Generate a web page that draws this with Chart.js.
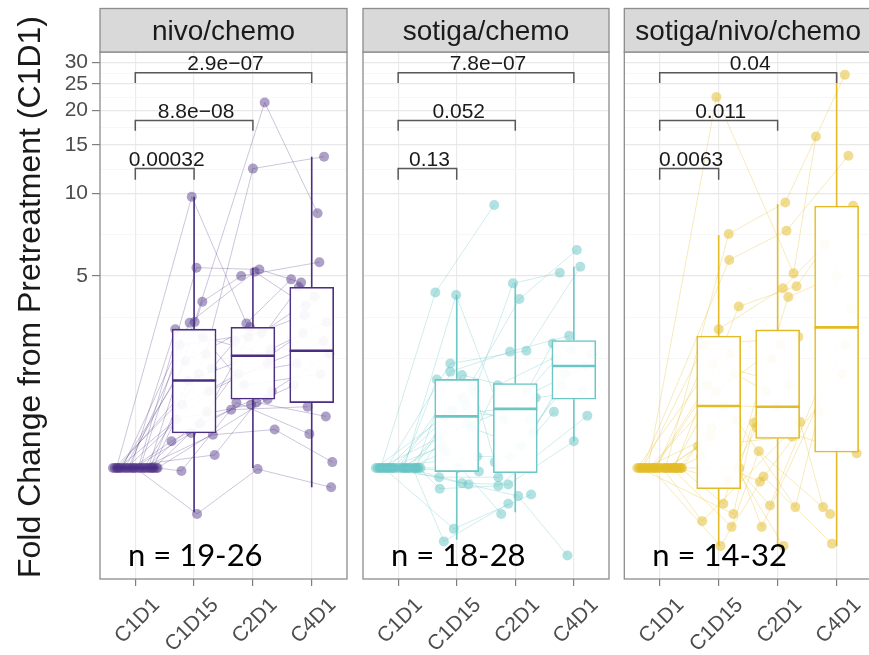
<!DOCTYPE html>
<html lang="en">
<head>
<meta charset="UTF-8">
<title>Fold change from pretreatment</title>
<script src="https://cdn.jsdelivr.net/npm/chart.js@4.4.0/dist/chart.umd.min.js"></script>
<style>
  html, body { margin: 0; padding: 0; background: #fff; overflow: hidden; width: 869px; height: 655px; }
  canvas { position: absolute; top: 0; }
</style>
</head>
<body>
<canvas id="c1" width="352" height="655" style="left:0px"></canvas>
<canvas id="c2" width="256" height="655" style="left:358px"></canvas>
<canvas id="c3" width="260" height="655" style="left:617px"></canvas>

<script>
// categories + axis
const timepoints = ['C1D1', 'C1D15', 'C2D1', 'C4D1'];
const yMajorTicks = [5, 10, 15, 20, 25, 30];
const yMinorTicks = [2.5, 3.54, 7.07, 12.25, 17.32, 22.36, 27.39];
const yMin = 0.394, yMax = 32.7;

// significance brackets (C1D1 vs each later timepoint)
const bracketEnd = [1, 2, 3];
const bracketTop = [12.3, 18.4, 27.5];
const bracketTip = [11.2, 16.9, 25.2];
const nivoPvals = ['0.00032', '8.8e\u221208', '2.9e\u221207'];
const sotigaPvals = ['0.13', '0.052', '7.8e\u221207'];
const comboPvals = ['0.0063', '0.011', '0.04'];

// box stats
const nivoLo  = [1, 0.69, 1.0, 0.85];
const nivoQ1  = [1, 1.34, 1.78, 1.73];
const nivoMed = [1, 2.08, 2.56, 2.67];
const nivoQ3  = [1, 3.20, 3.25, 4.55];
const nivoHi  = [1, 9.72, 5.35, 13.6];

const sotigaLo  = [1, 0.547, 0.69, 1.25];
const sotigaQ1  = [1, 0.97, 0.96, 1.78];
const sotigaMed = [1, 1.54, 1.64, 2.35];
const sotigaQ3  = [1, 2.10, 2.03, 2.91];
const sotigaHi  = [1, 4.26, 4.70, 5.4];

const comboLo  = [1, 0.52, 0.52, 0.52];
const comboQ1  = [1, 0.84, 1.28, 1.14];
const comboMed = [1, 1.68, 1.67, 3.25];
const comboQ3  = [1, 3.02, 3.18, 8.99];
const comboHi  = [1, 7.05, 9.15, 27.4];

// per patient: [x position (timepoint index + jitter), fold change]
const nivoPatients = [
  [[-0.32,1],[0.96,9.72],[1.89,3.36],[2.65,4.86]],
  [[-0.12,1],[1.01,3.40],[2.20,21.4],[3.10,8.46]],
  [[0.05,1],[1.04,5.36],[2.11,5.28],[2.82,4.73]],
  [[0.22,1],[1.14,4.03],[1.80,5.0],[3.13,5.61]],
  [[-0.22,1],[0.925,3.38],[2.03,5.18],[2.90,3.9]],
  [[0.30,1],[1.20,2.6],[2.00,12.3],[3.21,13.6]],
  [[-0.05,1],[0.615,1.25],[1.63,1.63],[2.93,1.67]],
  [[0.12,1],[1.32,1.32],[2.37,1.38],[3.35,1.05]],
  [[-0.38,1],[1.35,1.115],[2.06,1.73],[3.24,1.54]],
  [[0.36,1],[0.785,0.975],[1.72,1.73],[2.96,1.33]],
  [[0.00,1],[1.05,0.68],[2.08,0.99],[3.33,0.85]],
  [[-0.28,1],[0.70,1.5],[1.97,1.70],[2.70,2.0]],
  [[0.15,1],[0.80,1.7],[1.75,2.2],[2.75,2.4]],
  [[-0.15,1],[1.25,1.9],[2.25,2.4],[3.20,2.9]],
  [[0.25,1],[0.90,2.08],[2.30,2.7],[3.25,3.4]],
  [[-0.35,1],[1.30,2.3],[1.70,2.9],[2.88,3.6]],
  [[0.08,1],[0.75,2.8],[2.15,3.1],[3.05,4.2]],
  [[-0.25,1],[1.15,3.0],[1.85,2.0],[3.15,2.2]],
  [[0.32,1],[1.10,1.45],[2.32,1.9],[3.30,2.6]],
  [[-0.08,1],[0.68,3.2],[2.28,2.56],[2.85,3.1]],
  [[0.18,1],[1.22,1.6],[1.92,3.0]],
  [[-0.18,1],[0.85,2.45],[1.95,3.25]],
  [[0.28,1]],
  [[-0.02,1],[0.95,1.34],[2.78,4.55]],
  [[0.38,1],[2.25,1.78]],
  [[-0.30,1],[1.08,2.2]]
];

const sotigaPatients = [
  [[-0.30,1],[0.635,4.35],[1.64,9.07]],
  [[0.10,1],[0.99,4.26],[1.80,1.5],[2.70,2.5]],
  [[-0.10,1],[1.30,1.9],[1.96,4.70],[2.76,5.14]],
  [[0.20,1],[1.10,1.8],[2.07,4.12],[3.05,6.22]],
  [[-0.20,1],[0.89,2.40],[2.19,2.67],[3.11,5.4]],
  [[0.30,1],[0.89,2.24],[1.91,2.65],[2.92,3.03]],
  [[0.00,1],[1.09,2.18],[2.20,1.9],[2.64,2.84]],
  [[-0.35,1],[0.70,0.925],[1.71,0.925],[2.66,1.60]],
  [[0.35,1],[0.71,0.84],[1.71,0.86],[3.23,1.55]],
  [[-0.05,1],[1.09,0.88],[1.88,0.87],[3.00,1.25]],
  [[0.15,1],[1.20,0.87],[2.05,0.79],[2.89,0.48]],
  [[-0.25,1],[0.95,0.60],[2.27,0.80]],
  [[0.25,1],[0.78,0.54],[1.88,0.74]],
  [[-0.15,1],[0.75,1.2],[1.76,0.68]],
  [[0.05,1],[1.25,1.4],[2.10,1.2],[2.80,2.0]],
  [[-0.38,1],[0.80,1.54],[1.75,1.64],[3.20,2.35]],
  [[0.38,1],[1.15,1.7],[2.30,1.35],[2.85,2.2]],
  [[-0.28,1],[1.35,1.1],[1.90,1.1],[3.30,2.6]],
  [[0.12,1],[0.70,1.3],[2.35,1.8],[3.15,1.9]],
  [[-0.08,1],[1.02,1.0],[1.70,2.0],[2.95,2.7]],
  [[0.28,1],[0.92,1.62],[2.25,1.5]],
  [[-0.18,1],[1.28,2.0],[1.65,1.05]],
  [[0.18,1],[0.82,1.15]],
  [[-0.32,1],[1.18,1.45]],
  [[0.08,1],[0.66,2.1]],
  [[-0.12,1],[1.38,0.97]],
  [[0.32,1]],
  [[-0.22,1]]
];

const comboPatients = [
  [[-0.20,1],[0.96,22.4],[2.27,5.11],[2.65,16.1]],
  [[0.10,1],[1.17,7.11],[2.13,9.26],[3.14,27.0]],
  [[-0.30,1],[1.18,5.72],[2.15,7.31],[3.20,13.7]],
  [[0.25,1],[1.34,3.87],[2.32,4.59],[3.28,9.0]],
  [[-0.05,1],[1.00,3.2],[2.09,4.51],[2.80,6.5]],
  [[0.35,1],[1.08,0.74],[2.18,4.19],[3.00,5.0]],
  [[-0.35,1],[1.25,0.68],[1.60,1.46],[3.34,1.13]],
  [[0.05,1],[0.72,0.64],[2.38,1.47],[2.77,0.72]],
  [[0.20,1],[1.22,0.61],[1.68,1.15],[2.89,0.68]],
  [[-0.15,1],[1.03,0.52],[1.76,0.93],[2.92,0.53]],
  [[0.30,1],[0.70,1.1],[1.70,0.89],[3.10,2.2]],
  [[-0.25,1],[0.85,1.3],[1.87,0.73],[3.25,3.8]],
  [[0.15,1],[1.30,1.5],[2.30,0.72],[2.70,1.6]],
  [[-0.10,1],[0.80,2.0],[1.73,0.61],[3.15,2.8]],
  [[0.38,1],[1.10,1.68],[2.00,1.67]],
  [[-0.38,1],[0.90,2.4],[2.20,2.0]],
  [[0.00,1],[1.35,1.0],[1.90,2.5]],
  [[-0.28,1],[0.75,2.8],[2.35,3.0]],
  [[0.28,1],[1.15,0.9],[1.65,1.4]],
  [[0.12,1],[0.65,1.2],[2.25,1.3]],
  [[-0.18,1],[1.28,2.2],[1.80,1.9]],
  [[0.22,1],[0.95,1.9],[2.05,2.8]],
  [[-0.08,1],[1.20,2.6]],
  [[0.32,1],[0.88,1.4],[2.10,0.52]],
  [[-0.33,1]], [[0.18,1]], [[-0.22,1]], [[0.08,1]],
  [[0.36,1]], [[-0.12,1]], [[0.26,1]], [[-0.02,1]]
];

const FONT = '"Liberation Sans", Arial, Helvetica, sans-serif';

// strip, panel border, p-values, n labels, y title
const panelDecor = {
  id: 'panelDecor',
  afterDraw(chart, args, o) {
    const ctx = chart.ctx, ca = chart.chartArea;
    const x = chart.scales.x, y = chart.scales.y;
    const w = ca.right - ca.left;
    ctx.save();
    ctx.strokeStyle = '#8c8c8c';
    ctx.lineWidth = 1.3;
    ctx.strokeRect(ca.left, ca.top, w, ca.bottom - ca.top);
    ctx.fillStyle = '#d9d9d9';
    ctx.fillRect(ca.left, 8.5, w, ca.top - 8.5);
    ctx.strokeRect(ca.left, 8.5, w, ca.top - 8.5);

    ctx.fillStyle = '#1a1a1a';
    ctx.textAlign = 'center';
    ctx.textBaseline = 'alphabetic';
    ctx.font = '28px ' + FONT;
    ctx.fillText(o.strip, ca.left + w / 2, 40);

    ctx.font = '21px ' + FONT;
    o.pvals.forEach((p, j) => {
      const cx = (x.getPixelForValue(0) + x.getPixelForValue(bracketEnd[j])) / 2;
      ctx.fillText(p, cx + 2, y.getPixelForValue(bracketTop[j]) - 2.5);
    });

    ctx.fillStyle = '#000';
    ctx.textAlign = 'left';
    ctx.font = '31px Lato, sans-serif';
    ctx.fillText(o.n, ca.left + 28, 566);

    if (o.yTitle) {
      ctx.translate(31, 297);
      ctx.rotate(-Math.PI / 2);
      ctx.textAlign = 'center';
      ctx.textBaseline = 'middle';
      ctx.font = '32px ' + FONT;
      ctx.fillStyle = '#1a1a1a';
      ctx.fillText(o.yTitle, 0, 0);
    }
    ctx.restore();
  }
};

function buildPanel(p) {
  const datasets = [];

  p.patients.forEach(pt => {
    datasets.push({
      type: 'line',
      data: pt.map(d => ({ x: d[0], y: d[1] })),
      borderColor: p.line,
      borderWidth: 1,
      pointRadius: 5,
      pointBorderWidth: 0,
      pointBackgroundColor: p.point,
      order: 10
    });
  });

  const whisk = [], meds = [], boxes = [];
  timepoints.forEach((t, i) => {
    whisk.push({ x: i, y: p.lo[i] }, { x: i, y: p.q1[i] }, { x: i, y: null },
               { x: i, y: p.q3[i] }, { x: i, y: p.hi[i] }, { x: i, y: null });
    meds.push({ x: i - 0.375, y: p.med[i] }, { x: i + 0.375, y: p.med[i] }, { x: i, y: null });
    boxes.push({ x: i, y: [p.q1[i], p.q3[i]] });
  });

  datasets.push({
    type: 'line', data: whisk, borderColor: p.box, borderWidth: 1.6,
    pointRadius: 0, spanGaps: false, order: 4
  });
  datasets.push({
    type: 'bar', data: boxes, backgroundColor: 'rgba(255,255,255,0.93)',
    borderColor: p.box, borderWidth: 1.6, borderSkipped: false,
    barThickness: 44, grouped: false, order: 3
  });
  datasets.push({
    type: 'line', data: meds, borderColor: p.box, borderWidth: 2.6,
    pointRadius: 0, spanGaps: false, order: 2
  });

  const br = [];
  bracketEnd.forEach((e, j) => {
    br.push({ x: 0, y: bracketTip[j] }, { x: 0, y: bracketTop[j] },
            { x: e, y: bracketTop[j] }, { x: e, y: bracketTip[j] }, { x: e, y: null });
  });
  datasets.push({
    type: 'line', data: br, borderColor: '#595959', borderWidth: 1.5,
    pointRadius: 0, spanGaps: false, order: 1
  });

  const isMajor = v => yMajorTicks.includes(v);

  return new Chart(document.getElementById(p.id), {
    type: 'scatter',
    data: { datasets: datasets },
    options: {
      responsive: false,
      animation: false,
      devicePixelRatio: 1,
      layout: { padding: { left: p.padL, right: p.padR, top: 52, bottom: 0 } },
      plugins: {
        legend: { display: false },
        tooltip: { enabled: false },
        panelDecor: { strip: p.strip, pvals: p.pvals, n: p.n, yTitle: p.yTitle }
      },
      scales: {
        x: {
          type: 'linear', min: -0.6, max: 3.6, offset: false, bounds: 'data',
          afterBuildTicks: s => { s.ticks = timepoints.map((t, i) => ({ value: i })); },
          afterFit: s => { s.height = 76; s.paddingLeft = 0; s.paddingRight = 0; },
          ticks: {
            callback: v => timepoints[v],
            minRotation: 45, maxRotation: 45, autoSkip: false,
            font: { family: FONT, size: 21 }, color: '#4d4d4d',
            labelOffset: 21, padding: 7
          },
          grid: { color: '#ebebeb', lineWidth: 1.2, offset: false,
                  tickColor: '#7f7f7f', tickLength: 7, tickWidth: 1.2 },
          border: { display: false }
        },
        y: {
          type: 'logarithmic', min: yMin, max: yMax, bounds: 'data',
          afterBuildTicks: s => {
            s.ticks = yMinorTicks.concat(yMajorTicks).sort((a, b) => a - b).map(v => ({ value: v }));
          },
          afterFit: s => { s.width = p.yTitle ? 100 : 0; },
          ticks: {
            display: !!p.yTitle, autoSkip: false,
            callback: v => isMajor(v) ? String(v) : '',
            font: { family: FONT, size: 21 }, color: '#4d4d4d', padding: 4
          },
          grid: {
            color: c => isMajor(c.tick.value) ? '#e8e8e8' : '#f3f3f3',
            lineWidth: c => isMajor(c.tick.value) ? 1.2 : 0.7,
            tickColor: c => isMajor(c.tick.value) ? '#7f7f7f' : 'rgba(0,0,0,0)',
            drawTicks: !!p.yTitle, tickLength: 8, tickWidth: 1.2
          },
          border: { display: false }
        }
      }
    },
    plugins: [panelDecor]
  });
}

buildPanel({
  id: 'c1', strip: 'nivo/chemo', n: 'n = 19-26', pvals: nivoPvals,
  yTitle: 'Fold Change from Pretreatment (C1D1)',
  patients: nivoPatients, lo: nivoLo, q1: nivoQ1, med: nivoMed, q3: nivoQ3, hi: nivoHi,
  box: '#4b2e83', point: 'rgba(75,46,131,0.45)', line: 'rgba(75,46,131,0.28)',
  padL: 0, padR: 4
});
buildPanel({
  id: 'c2', strip: 'sotiga/chemo', n: 'n = 18-28', pvals: sotigaPvals,
  patients: sotigaPatients, lo: sotigaLo, q1: sotigaQ1, med: sotigaMed, q3: sotigaQ3, hi: sotigaHi,
  box: '#6cc6c6', point: 'rgba(100,196,196,0.5)', line: 'rgba(100,196,196,0.3)',
  padL: 4.3, padR: 3.3
});
buildPanel({
  id: 'c3', strip: 'sotiga/nivo/chemo', n: 'n = 14-32', pvals: comboPvals,
  patients: comboPatients, lo: comboLo, q1: comboQ1, med: comboMed, q3: comboQ3, hi: comboHi,
  box: '#e3bb26', point: 'rgba(227,187,38,0.5)', line: 'rgba(227,187,38,0.3)',
  padL: 7.3, padR: 4.3
});
</script>
</body>
</html>
